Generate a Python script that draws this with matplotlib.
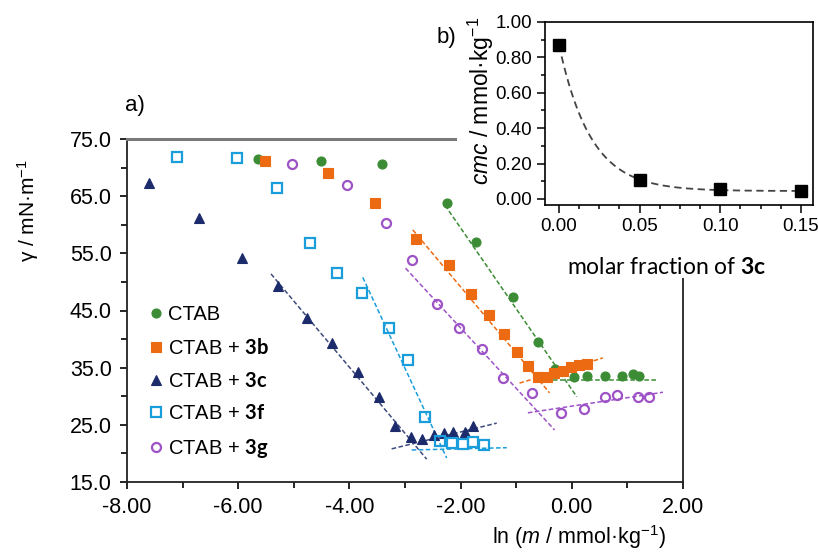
import numpy as np
import matplotlib
matplotlib.use("Agg")
import matplotlib.pyplot as plt
from matplotlib.patches import Rectangle
from matplotlib.ticker import MultipleLocator, FormatStrFormatter

plt.rcParams['font.family'] = ['Liberation Sans', 'DejaVu Sans']
plt.rcParams['font.sans-serif'] = ['Liberation Sans']
plt.rcParams['axes.unicode_minus'] = False
plt.rcParams['mathtext.fontset'] = 'custom'
plt.rcParams['mathtext.rm'] = 'Liberation Sans'
plt.rcParams['mathtext.it'] = 'Liberation Sans:italic'
plt.rcParams['mathtext.bf'] = 'Lato:bold'

# --- panel a) surface tension vs ln(m) ---
ctab_x = [-5.65, -4.51, -3.42, -2.25, -1.73, -1.06, -0.61, -0.30, 0.04, 0.27, 0.59, 0.90, 1.10, 1.20]
ctab_y = [71.5, 71.1, 70.6, 63.8, 57.0, 47.3, 39.5, 34.8, 33.4, 33.5, 33.5, 33.5, 33.9, 33.5]

b3_x = [-5.52, -4.39, -3.54, -2.81, -2.21, -1.82, -1.49, -1.22, -0.99, -0.79,
        -0.61, -0.45, -0.32, -0.16, -0.02, 0.13, 0.27]
b3_y = [71.1, 69.0, 63.8, 57.5, 52.9, 47.9, 44.2, 40.9, 37.7, 35.3,
        33.4, 33.4, 34.1, 34.4, 35.1, 35.5, 35.6]

c3_x = [-7.61, -6.71, -5.94, -5.29, -4.77, -4.32, -3.85, -3.47, -3.18,
        -2.90, -2.70, -2.48, -2.30, -2.14, -1.92, -1.78]
c3_y = [67.3, 61.2, 54.2, 49.3, 43.7, 39.3, 34.2, 29.9, 24.8,
        22.9, 22.5, 23.2, 23.6, 23.7, 23.7, 24.8]

f3_x = [-7.10, -6.02, -5.31, -4.71, -4.23, -3.78, -3.29, -2.95, -2.64,
        -2.37, -2.16, -1.96, -1.78, -1.58]
f3_y = [71.8, 71.6, 66.4, 56.8, 51.5, 48.0, 41.9, 36.3, 26.4,
        22.2, 21.8, 21.6, 22.0, 21.5]

g3_x = [-5.04, -4.05, -3.35, -2.88, -2.43, -2.03, -1.62, -1.24, -0.72,
        -0.20, 0.22, 0.59, 0.81, 1.19, 1.39]
g3_y = [70.6, 66.9, 60.3, 53.8, 46.1, 41.9, 38.3, 33.2, 30.6,
        27.1, 27.8, 29.9, 30.2, 29.9, 29.9]

# linear fit segments (x0, y0, x1, y1)
ctab_fits = [(-2.28, 63.4, 0.09, 29.9), (-0.34, 32.8, 1.53, 32.8)]
b3_fits = [(-2.86, 59.1, -0.40, 30.6), (-0.94, 32.3, 0.56, 36.7)]
c3_fits = [(-5.41, 51.4, -2.61, 19.0), (-3.24, 20.8, -1.35, 25.3)]
f3_fits = [(-3.76, 50.8, -2.25, 19.2), (-2.88, 20.6, -1.17, 21.0)]
g3_fits = [(-2.99, 52.4, -0.31, 24.1), (-0.79, 27.1, 1.64, 30.7)]

# --- panel b) cmc vs molar fraction of 3c ---
frac_3c = [0.00, 0.05, 0.10, 0.15]
cmc = [0.87, 0.11, 0.055, 0.045]
cmc_fit_a, cmc_fit_tau, cmc_fit_c = 0.825, 0.0197, 0.045

series = [
    (ctab_x, ctab_y, ctab_fits, 'o', '#3b8c34', '#3b8c34', '#3b8c34', 'CTAB'),
    (b3_x, b3_y, b3_fits, 's', '#ec6a12', '#ec6a12', '#ec6a12', r'CTAB + $\mathbf{3b}$'),
    (c3_x, c3_y, c3_fits, '^', '#1c2b6b', '#1c2b6b', '#3d4b7c', r'CTAB + $\mathbf{3c}$'),
    (f3_x, f3_y, f3_fits, 's', 'none', '#1a9ddb', '#1a9ddb', r'CTAB + $\mathbf{3f}$'),
    (g3_x, g3_y, g3_fits, 'o', 'none', '#9d52c6', '#9d52c6', r'CTAB + $\mathbf{3g}$'),
]

W, H = 818, 553
fig = plt.figure(figsize=(W / 100, H / 100), dpi=100)

ax = fig.add_axes([127 / W, 1 - 482 / H, 556 / W, 343 / H])
for xs, ys, fits, mk, face, edge, col, lab in series:
    for x0, y0, x1, y1 in fits:
        ax.plot([x0, x1], [y0, y1], color=col, lw=1.1, dashes=(3, 1.6), zorder=2)
    ms = 7 if mk == '^' else 6.5
    ax.plot(xs, ys, ls='none', marker=mk, ms=ms, mfc=face, mec=edge,
            mew=1.6 if face == 'none' else 0.8, label=lab, zorder=3)

ax.set_xlim(-8, 2)
ax.set_ylim(15, 75)
ax.xaxis.set_major_locator(MultipleLocator(2))
ax.xaxis.set_minor_locator(MultipleLocator(1))
ax.yaxis.set_major_locator(MultipleLocator(10, offset=5))
ax.yaxis.set_minor_locator(MultipleLocator(5))
ax.xaxis.set_major_formatter(FormatStrFormatter('%.2f'))
ax.yaxis.set_major_formatter(FormatStrFormatter('%.1f'))
ax.tick_params(which='both', direction='out', width=1.2, labelsize=15.5, colors='black')
ax.tick_params(which='major', length=5, pad=6)
ax.tick_params(which='minor', length=4)
for s in ['left', 'bottom', 'right']:
    ax.spines[s].set_linewidth(1.3)
    ax.spines[s].set_color('#222222')
ax.spines['top'].set_color('#7a7a7a')
ax.spines['top'].set_linewidth(2.2)

ax.legend(loc='upper left', bbox_to_anchor=(0.041, 0.515), frameon=False,
          handlelength=0.6, handletextpad=0.3, labelspacing=0.68,
          borderpad=0, borderaxespad=0, fontsize=14.5)

fig.text(28 / W, 1 - 211 / H, r'γ / mN·m$^{-1}$', rotation=90, ha='center', va='center', fontsize=15)
fig.text(579 / W, 1 - 537 / H, r'ln ($\mathit{m}$ / mmol·kg$^{-1}$)', ha='center', va='center', fontsize=15.5)
fig.text(125 / W, 1 - 106 / H, 'a)', ha='left', va='center', fontsize=16)

# white panel behind the inset
for x0, y1 in [(457, 200), (498, 278)]:
    fig.add_artist(Rectangle((x0 / W, 1 - y1 / H), 1 - x0 / W, y1 / H,
                             transform=fig.transFigure, facecolor='white',
                             edgecolor='none', zorder=1))

axb = fig.add_axes([545 / W, 1 - 205 / H, 268 / W, 183 / H])
axb.set_zorder(2)
xf = np.linspace(frac_3c[0], frac_3c[-1], 200)
axb.plot(xf, cmc_fit_a * np.exp(-xf / cmc_fit_tau) + cmc_fit_c, color='#444444',
         lw=1.3, dashes=(4, 2.5))
axb.plot(frac_3c, cmc, ls='none', marker='s', ms=8, color='black', zorder=3)
axb.set_xlim(-0.0087, 0.1575)
axb.set_ylim(-0.034, 1.0)
axb.xaxis.set_major_locator(MultipleLocator(0.05))
axb.xaxis.set_minor_locator(MultipleLocator(0.0125))
axb.yaxis.set_major_locator(MultipleLocator(0.2))
axb.yaxis.set_minor_locator(MultipleLocator(0.1))
axb.xaxis.set_major_formatter(FormatStrFormatter('%.2f'))
axb.yaxis.set_major_formatter(FormatStrFormatter('%.2f'))
axb.tick_params(which='both', direction='out', width=1.1, labelsize=13.5)
axb.tick_params(which='major', length=6)
axb.tick_params(which='minor', length=3)
for s in axb.spines.values():
    s.set_linewidth(1.2)

fig.text(481 / W, 1 - 101 / H, r'$\mathit{cmc}$ / mmol·kg$^{-1}$', rotation=90,
         ha='center', va='center', fontsize=16.5)
fig.text(667 / W, 1 - 268 / H, r'molar fraction of $\mathbf{3c}$', ha='center', va='center',
         fontsize=16.5, family=['Lato', 'DejaVu Sans'])
fig.text(446 / W, 1 - 38 / H, 'b)', ha='center', va='center', fontsize=16)

fig.savefig('out.png', dpi=100)
